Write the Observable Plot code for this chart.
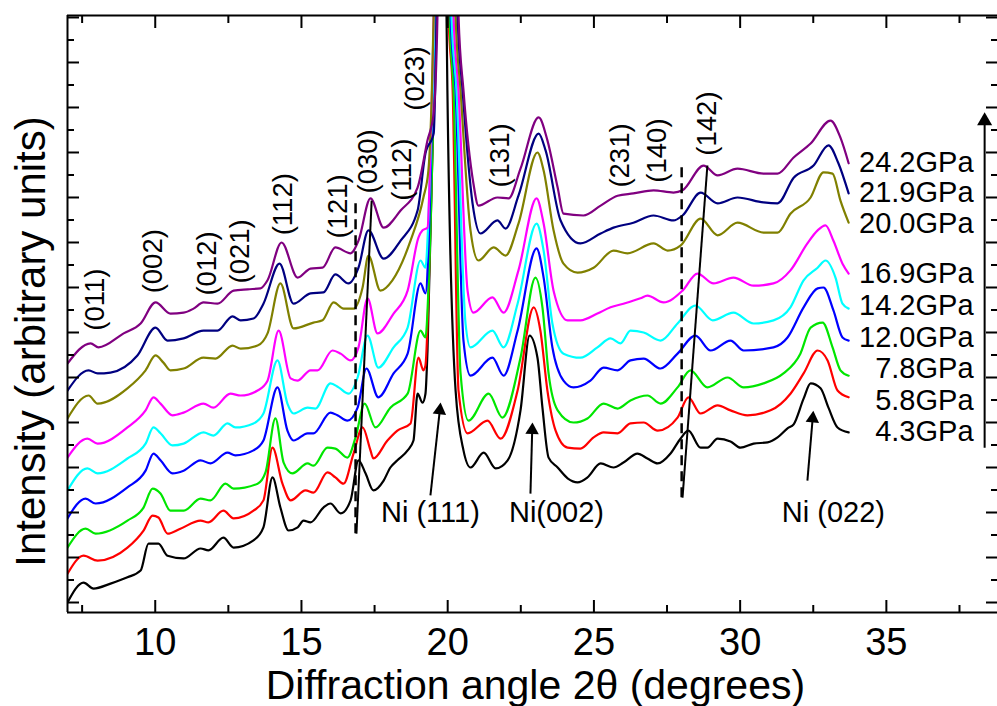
<!DOCTYPE html>
<html><head><meta charset="utf-8">
<script src="https://cdn.jsdelivr.net/npm/d3@7"></script>
<script src="https://cdn.jsdelivr.net/npm/@observablehq/plot@0.6"></script>
<style>body{margin:0;background:#fff;} #chart svg{display:block;}</style>
</head><body><div id="chart"></div>
<script>
// ---- data: diffraction patterns (x = 2theta in degrees, y = intensity, arbitrary units, stacked) ----
const p43 = [[7.00,0.0],[7.55,4.4],[7.89,3.1],[8.47,4.2],[9.05,5.6],[9.50,7.1],[9.77,13.1],[10.11,13.1],[10.42,10.4],[10.97,9.8],[11.55,12.0],[11.82,11.6],[12.33,14.4],[12.68,12.2],[13.36,13.8],[13.70,16.7],[14.01,27.8],[14.28,21.1],[14.56,16.0],[14.87,16.7],[15.07,18.2],[15.31,17.8],[15.75,21.1],[15.99,22.0],[16.34,19.8],[16.68,22.7],[16.95,31.6],[17.19,28.7],[17.46,24.9],[17.81,27.1],[18.04,30.0],[18.28,31.6],[18.63,33.8],[18.83,36.0],[18.97,46.4],[19.14,44.4],[19.24,46.4],[19.31,56.0],[19.52,111.6],[19.62,130.4],[19.79,400],[19.96,130.4],[19.99,113.8],[20.27,47.1],[20.54,33.8],[20.78,30.0],[21.23,33.3],[21.64,29.8],[22.05,31.6],[22.49,42.7],[22.80,59.3],[23.07,54.4],[23.24,43.3],[23.45,32.2],[23.76,30.0],[24.10,27.6],[24.44,26.7],[24.78,27.8],[25.23,30.9],[25.67,30.0],[26.01,31.1],[26.49,33.1],[26.83,32.0],[27.18,30.9],[27.62,33.1],[27.96,36.4],[28.23,38.2],[28.65,34.4],[28.88,34.4],[29.23,36.4],[29.67,35.8],[30.01,34.4],[30.46,35.3],[30.94,35.6],[31.28,36.7],[31.62,38.7],[31.83,39.6],[32.17,45.3],[32.41,48.7],[32.75,47.6],[33.02,43.3],[33.33,38.9],[33.71,37.8]];
const p58 = [[7.00,6.4],[7.55,10.4],[8.03,9.3],[9.05,12.2],[9.60,16.0],[9.91,19.3],[10.11,18.9],[10.42,15.3],[10.86,16.4],[11.55,18.2],[11.82,17.8],[12.33,20.4],[12.68,18.7],[13.36,20.4],[13.70,22.7],[14.01,34.4],[14.35,26.4],[14.63,22.7],[15.14,24.9],[15.41,24.4],[15.89,28.9],[16.16,27.8],[16.44,26.4],[16.78,33.1],[17.09,38.9],[17.36,33.8],[17.46,32.0],[17.94,36.0],[18.28,38.2],[18.73,39.8],[19.00,54.4],[19.17,51.6],[19.24,52.7],[19.34,67.1],[19.52,111.6],[19.58,130.4],[19.80,400],[20.03,130.4],[20.17,113.8],[20.37,47.1],[20.68,37.6],[21.36,40.4],[21.81,36.4],[22.39,47.1],[22.94,65.6],[23.17,60.4],[23.41,47.1],[23.69,38.2],[24.10,34.4],[24.54,34.2],[24.99,36.7],[25.33,37.8],[25.81,37.6],[26.25,39.8],[26.70,40.0],[27.18,38.2],[27.86,41.1],[28.23,45.6],[28.65,42.0],[29.23,43.8],[29.67,42.7],[30.25,41.6],[31.04,42.7],[31.72,46.4],[32.17,50.9],[32.65,56.0],[32.99,53.8],[33.33,47.1],[33.71,45.6]];
const p78 = [[7.00,12.2],[7.62,16.4],[7.96,15.3],[9.05,18.2],[9.60,21.1],[9.91,25.3],[10.18,24.2],[10.52,20.4],[10.97,20.4],[11.55,23.1],[11.89,22.7],[12.40,26.4],[12.68,25.3],[13.50,26.4],[13.77,28.9],[14.11,40.9],[14.39,31.1],[14.69,28.7],[15.21,30.9],[15.41,30.4],[15.89,34.4],[16.16,34.2],[16.57,32.2],[16.85,36.7],[17.16,44.2],[17.53,38.9],[18.04,43.3],[18.63,46.4],[19.07,60.4],[19.24,58.9],[19.34,69.3],[19.52,111.6],[19.58,130.4],[19.81,400],[20.06,130.4],[20.20,113.8],[20.44,50.9],[20.71,40.4],[21.40,46.4],[21.87,41.1],[22.49,54.4],[23.00,72.2],[23.24,65.6],[23.45,50.9],[23.76,42.7],[24.30,40.0],[24.78,40.9],[25.33,44.2],[25.81,43.1],[26.25,44.9],[26.83,46.0],[27.28,44.2],[27.86,47.8],[28.30,51.6],[28.88,47.8],[29.57,50.0],[30.12,47.8],[30.80,48.7],[31.48,50.9],[32.06,55.3],[32.41,61.1],[32.82,62.2],[33.16,56.7],[33.43,51.6],[33.71,50.4]];
const p120 = [[7.00,18.7],[7.62,23.1],[7.96,22.0],[9.05,25.6],[9.67,29.3],[9.94,33.1],[10.18,31.6],[10.59,28.7],[10.97,29.3],[11.55,31.6],[11.89,30.9],[12.47,33.3],[12.74,32.7],[13.36,33.8],[13.70,36.0],[14.18,47.8],[14.52,38.2],[14.73,36.0],[15.21,37.6],[15.41,37.6],[15.99,42.2],[16.23,41.6],[16.57,40.4],[16.92,43.3],[17.22,52.0],[17.63,45.6],[18.15,50.9],[18.63,55.3],[19.07,70.9],[19.24,68.7],[19.34,78.2],[19.48,111.6],[19.55,130.4],[19.82,400],[20.10,130.4],[20.27,113.8],[20.54,58.2],[20.78,50.4],[21.53,54.4],[21.91,50.4],[22.39,60.4],[23.04,78.7],[23.28,72.2],[23.58,56.7],[23.96,49.3],[24.30,47.8],[24.88,49.3],[25.33,52.2],[25.81,51.6],[26.25,53.8],[26.70,54.2],[27.28,52.0],[27.86,55.3],[28.47,59.3],[28.99,56.0],[29.67,58.2],[30.12,56.0],[31.14,56.7],[31.62,58.9],[32.17,65.6],[32.65,69.8],[32.85,70.0],[33.19,64.9],[33.50,58.9],[33.71,58.2]];
const p142 = [[7.00,24.9],[7.68,29.8],[8.03,28.7],[9.05,32.0],[9.67,35.3],[9.94,38.9],[10.18,37.6],[10.59,34.9],[10.97,35.3],[11.65,37.8],[11.99,37.1],[12.47,39.8],[12.74,38.9],[13.36,39.8],[13.70,42.0],[14.18,53.8],[14.52,44.2],[14.73,42.0],[15.21,43.3],[15.48,43.1],[15.99,48.7],[16.27,47.8],[16.61,46.4],[16.92,50.0],[17.26,59.3],[17.63,52.2],[18.15,56.7],[18.63,61.1],[19.07,76.0],[19.24,74.4],[19.34,84.9],[19.48,111.6],[19.55,130.4],[19.84,400],[20.13,130.4],[20.30,113.8],[20.61,62.0],[20.78,56.7],[21.53,60.4],[21.91,56.7],[22.39,66.4],[23.04,84.2],[23.28,78.2],[23.58,62.0],[23.96,55.3],[24.54,54.4],[25.12,56.7],[25.57,58.7],[25.91,57.6],[26.25,60.4],[26.70,60.0],[27.28,58.2],[27.86,62.0],[28.47,66.0],[29.06,62.7],[29.77,64.4],[30.46,62.0],[31.14,62.7],[31.72,65.6],[32.17,71.6],[32.65,74.4],[32.92,76.0],[33.26,72.2],[33.50,66.4],[33.71,65.3]];
const p169 = [[7.00,32.2],[7.68,36.4],[8.03,35.3],[9.05,38.9],[9.67,42.7],[9.94,45.6],[10.18,44.2],[10.59,41.6],[10.97,42.2],[11.65,44.2],[11.99,43.3],[12.57,46.4],[12.92,46.0],[13.50,47.1],[13.84,49.3],[14.22,60.4],[14.63,49.8],[14.86,49.3],[15.31,51.6],[15.55,51.6],[16.06,56.0],[16.34,55.3],[16.68,53.8],[16.95,56.7],[17.26,67.6],[17.60,59.8],[18.15,64.2],[18.63,69.3],[19.00,81.1],[19.14,82.7],[19.31,83.3],[19.41,100.4],[19.52,130.4],[19.87,400],[20.20,130.4],[20.37,113.8],[20.68,69.3],[20.88,64.4],[21.53,67.8],[21.91,64.4],[22.42,73.8],[23.04,89.8],[23.28,84.2],[23.62,69.3],[24.10,62.7],[24.54,62.7],[25.12,64.2],[25.57,65.6],[26.01,66.4],[26.59,67.6],[26.83,68.2],[27.38,66.7],[28.03,69.3],[28.54,73.1],[29.09,70.9],[29.77,72.2],[30.46,70.4],[31.14,70.9],[31.72,73.8],[32.30,79.8],[32.65,82.7],[32.92,83.8],[33.19,80.4],[33.50,75.3],[33.71,73.1]];
const p200 = [[7.00,40.9],[7.72,46.0],[8.03,44.2],[9.05,47.6],[9.67,51.6],[10.01,54.9],[10.28,53.3],[10.52,51.6],[10.97,52.0],[11.65,54.4],[12.06,54.2],[12.64,57.1],[12.92,56.4],[13.50,57.1],[13.84,59.8],[14.28,70.9],[14.73,60.9],[15.41,62.2],[15.72,62.7],[16.10,66.7],[16.44,65.3],[16.78,65.3],[17.09,70.0],[17.29,77.1],[17.70,69.3],[18.11,71.6],[18.73,80.4],[19.17,90.0],[19.34,96.0],[19.45,111.6],[19.52,130.4],[19.90,400],[20.27,130.4],[20.44,113.8],[20.78,82.7],[21.05,76.0],[21.57,78.9],[21.98,77.1],[22.42,84.2],[23.07,100.0],[23.28,96.0],[23.62,82.7],[23.96,75.3],[24.44,73.3],[24.99,74.4],[25.67,78.2],[26.15,77.6],[27.04,79.8],[27.52,78.2],[27.96,79.3],[28.65,85.3],[29.23,81.6],[29.91,84.4],[30.80,82.2],[31.28,82.2],[31.72,86.4],[32.41,90.0],[32.85,95.6],[33.16,95.3],[33.43,89.3],[33.71,84.4]];
const p219 = [[7.00,47.1],[7.72,51.6],[8.03,50.9],[8.47,51.1],[9.39,54.9],[10.01,61.1],[10.42,58.2],[10.97,58.7],[11.65,60.4],[12.13,60.4],[12.64,63.6],[12.92,62.7],[13.36,63.1],[13.70,66.4],[14.25,75.3],[14.73,66.4],[15.31,68.7],[15.75,68.9],[16.16,72.9],[16.61,70.9],[16.95,74.4],[17.29,82.7],[17.81,76.4],[18.39,80.4],[18.97,87.1],[19.24,99.8],[19.52,104.2],[19.62,130.4],[19.98,400],[20.34,130.4],[20.51,113.8],[20.85,88.7],[21.12,82.0],[21.70,84.9],[21.98,83.1],[22.42,90.4],[23.11,104.2],[23.35,100.4],[23.86,84.9],[24.54,79.8],[25.23,82.0],[25.67,83.3],[26.35,84.4],[27.04,86.0],[27.72,84.9],[28.03,86.0],[28.65,91.1],[29.23,88.7],[29.91,90.0],[30.80,88.9],[31.28,88.7],[31.83,94.4],[32.51,97.1],[33.02,101.6],[33.36,97.6],[33.71,90.9]];
const p242 = [[7.00,53.1],[7.79,57.6],[8.06,56.7],[8.92,59.8],[9.50,62.0],[10.01,66.7],[10.52,64.2],[10.97,64.4],[11.31,65.3],[11.65,66.7],[12.13,66.4],[12.68,69.3],[13.16,69.6],[13.60,69.8],[13.84,71.6],[14.32,80.0],[14.87,72.2],[15.31,74.2],[15.72,74.4],[16.16,78.9],[16.68,77.6],[16.95,80.4],[17.36,89.8],[17.81,83.3],[18.39,87.1],[18.97,92.2],[19.31,102.7],[19.52,108.7],[19.65,130.4],[20.01,400],[20.37,130.4],[20.54,113.8],[20.88,93.1],[21.05,88.2],[21.70,90.0],[22.08,89.8],[22.49,96.4],[23.11,107.8],[23.41,102.7],[23.76,92.2],[23.96,86.4],[24.64,86.0],[25.23,88.2],[25.81,90.4],[26.35,90.9],[27.04,91.6],[27.72,91.1],[28.03,91.6],[28.75,97.1],[29.23,94.9],[29.91,96.4],[30.80,95.3],[31.28,95.3],[31.83,98.9],[32.41,102.0],[33.09,107.1],[33.43,103.3],[33.71,97.6]];

const pressures = ["4.3GPa","5.8GPa","7.8GPa","12.0GPa","14.2GPa","16.9GPa","20.0GPa","21.9GPa","24.2GPa"];
const seriesColors = ["#000000","#ff0000","#00e600","#0000ff","#00ffff","#ff00ff","#808000","#000080","#800080"];
const seriesData = [p43,p58,p78,p120,p142,p169,p200,p219,p242];
const pressureLabelY = [35.8,42.7,49.8,56.7,63.8,70.9,82.2,89.1,95.6];
const pressureLabelX = 37.98;

// reflection labels (rotated)
const hklText = ["(011)","(002)","(012)","(021)","(112)","(121)","(030)","(112)","(023)","(131)","(231)","(140)","(142)"];
const hklX = [7.96,9.94,11.79,12.92,14.39,16.27,17.29,18.46,18.90,21.81,25.91,27.18,28.88];
const hklY = [60.4,68.7,68.2,70.9,81.6,80.9,90.9,89.3,109.3,92.2,92.2,93.3,99.3];

// Ni reflections
const niText = ["Ni (111)","Ni(002)","Ni (022)"];
const niX = [19.41,23.72,33.19];
const niY = [17.8,17.8,17.8];
const niArrowX1 = [19.41,22.83,32.30];
const niArrowY1 = [23.8,24.2,27.1];
const niHeadX = [19.73,22.89,32.48];
const niHeadY = [42.7,38.3,40.9];
const niHeadAngle = [6,2,5];

// guide lines
const dashX = [16.85,28.0];
const dashY1 = [15.3,23.3];
const dashY2 = [89.3,97.6];
const trackX1 = [16.88,28.03];
const trackY1 = [15.3,23.3];
const trackX2 = [17.40,28.88];
const trackY2 = [89.3,97.1];

// pressure arrow
const pArrowX = 38.36, pArrowY1 = 34.4, pArrowHeadY = 107.0;

// axes
const xDomain = [7, 38.8];
const yDomain = [-2.22, 130.44];
const xMajor = [10,15,20,25,30,35];
const xMinor = [7.5,12.5,17.5,22.5,27.5,32.5,37.5];
const yMajor = d3.range(0,131,10);
const yMinor = d3.range(5,131,10);

// ---- build tables ----
const lineMarks = seriesData.map((pts,i) => Plot.line(pts.map(([x,y]) => ({x,y})), {
  x:"x", y:"y", stroke: seriesColors[i], strokeWidth: 2.2, curve: "monotone-x", clip: true
}));
const hkl = hklText.map((t,i) => ({t, x: hklX[i], y: hklY[i]}));
const plabels = pressures.map((t,i) => ({t, x: pressureLabelX, y: pressureLabelY[i]}));
const ni = niText.map((t,i) => ({t, x: niX[i], y: niY[i], x1: niArrowX1[i], y1: niArrowY1[i], hx: niHeadX[i], hy: niHeadY[i], a: niHeadAngle[i]}));
const dashes = dashX.map((x,i) => ({x, y1: dashY1[i], y2: dashY2[i]}));
const tracks = trackX1.map((x1,i) => ({x1, y1: trackY1[i], x2: trackX2[i], y2: trackY2[i]}));

const font = "'Liberation Sans', Arial, Helvetica, sans-serif";
const chart = Plot.plot({
  width: 997, height: 706,
  marginLeft: 67, marginRight: 0, marginTop: 15, marginBottom: 94,
  x: {domain: xDomain},
  y: {domain: yDomain},
  style: {fontFamily: font, background: "#fff", color: "#000", overflow: "visible"},
  marks: [
    ...lineMarks,
    // frame
    Plot.ruleX([xDomain[0]], {stroke: "#000", strokeWidth: 2}),
    Plot.ruleY(yDomain, {stroke: "#000", strokeWidth: 2}),
    // inward ticks
    Plot.axisX(xMajor, {anchor: "bottom", tickSize: 12, dy: -12, fill: "none", label: null, strokeWidth: 2}),
    Plot.axisX(xMinor, {anchor: "bottom", tickSize: 7, dy: -7, fill: "none", label: null, strokeWidth: 2}),
    Plot.axisX(xMajor, {anchor: "top", tickSize: 12, dy: 12, fill: "none", label: null, strokeWidth: 2}),
    Plot.axisX(xMinor, {anchor: "top", tickSize: 7, dy: 7, fill: "none", label: null, strokeWidth: 2}),
    Plot.axisY(yMajor, {anchor: "left", tickSize: 12, dx: 12, fill: "none", label: null, strokeWidth: 2}),
    Plot.axisY(yMinor, {anchor: "left", tickSize: 7, dx: 7, fill: "none", label: null, strokeWidth: 2}),
    Plot.axisY(yMajor, {anchor: "right", tickSize: 12, dx: -12, fill: "none", label: null, strokeWidth: 2}),
    Plot.axisY(yMinor, {anchor: "right", tickSize: 7, dx: -7, fill: "none", label: null, strokeWidth: 2}),
    // tick labels
    Plot.axisX(xMajor, {anchor: "bottom", tickSize: 0, tickPadding: 16, fontSize: 38, label: null}),
    // axis titles
    Plot.text([{t: "Diffraction angle 2\u03b8 (degrees)", x: 23.0}], {x: "x", text: "t", frameAnchor: "bottom", dy: 86, lineAnchor: "bottom", fontSize: 41, fill: "#000"}),
    Plot.text([{t: "Intensity (arbitrary units)", x: xDomain[0], y: 58}], {x: "x", y: "y", text: "t", rotate: -90, dx: -23, lineAnchor: "bottom", fontSize: 42, fill: "#000"}),
    // guide lines
    Plot.ruleX(dashes, {x: "x", y1: "y1", y2: "y2", stroke: "#000", strokeWidth: 2.5, strokeDasharray: "10,6"}),
    Plot.link(tracks, {x1: "x1", y1: "y1", x2: "x2", y2: "y2", stroke: "#000", strokeWidth: 2}),
    // reflection labels
    Plot.text(hkl, {x: "x", y: "y", text: "t", rotate: -90, textAnchor: "start", lineAnchor: "middle", fontSize: 27.5, fill: "#000"}),
    // pressure labels
    Plot.text(plabels, {x: "x", y: "y", text: "t", textAnchor: "end", lineAnchor: "bottom", fontSize: 29, fill: "#000"}),
    // Ni labels + arrows
    Plot.text(ni, {x: "x", y: "y", text: "t", textAnchor: "middle", lineAnchor: "bottom", fontSize: 29, fill: "#000"}),
    Plot.link(ni, {x1: "x1", y1: "y1", x2: "hx", y2: "hy", stroke: "#000", strokeWidth: 2}),
    Plot.dot(ni, {x: "hx", y: "hy", symbol: "triangle", r: 5, fill: "#000", stroke: "none", rotate: "a"}),
    // pressure arrow
    Plot.link([{x: pArrowX, y1: pArrowY1, y2: pArrowHeadY}], {x1: "x", x2: "x", y1: "y1", y2: "y2", stroke: "#000", strokeWidth: 2}),
    Plot.dot([{x: pArrowX, y: pArrowHeadY}], {x: "x", y: "y", symbol: "triangle", r: 5.6, fill: "#000", stroke: "none"})
  ]
});
document.getElementById("chart").appendChild(chart);
</script></body></html>
